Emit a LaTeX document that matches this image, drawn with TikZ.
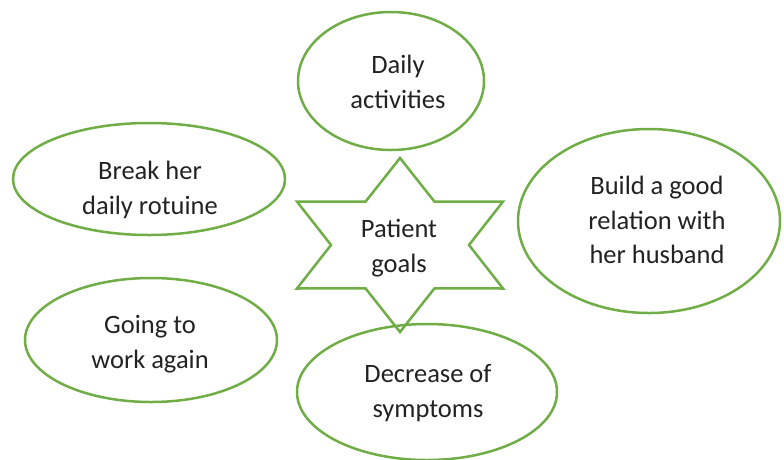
\documentclass[tikz,border=0pt]{standalone}
\usepackage{fontspec}
\setmainfont{Carlito}
\usetikzlibrary{shapes.geometric}
\definecolor{GoalGreen}{HTML}{70AD47}
\definecolor{GoalText}{HTML}{222222}

\begin{document}
\begin{tikzpicture}[x=1pt,y=-1pt,
  goal/.style={ellipse,draw=GoalGreen,line width=2.5pt,inner sep=0pt},
  goaltext/.style={align=center,text=GoalText,font=\fontsize{26.5}{34.5}\selectfont}]
  \useasboundingbox (0,0) rectangle (784,459);
  \draw[GoalGreen,line width=2.5pt,shift={(400,245)}] (90:119 and 87)
    \foreach \a in {30,-30,...,-270} { -- (\a+30:69 and 50) -- (\a:119 and 87) } -- cycle;
  \node[goaltext] (patient) at (399,248) {Patient\\goals};
  \foreach \name/\cx/\cy/\rx/\ry/\tx/\ty/\txt in {
    daily/391/81/93/69/398/82/{Daily\\activities},
    routine/149/179/136/56/150/190/{Break her\\daily rotuine},
    husband/649/221/131/92/657/220/{Build a good\\relation with\\her husband},
    work/151/340/126/62/150/344/{Going to\\work again},
    symptoms/427/392/130/68/428/393/{Decrease of\\symptoms}}
  {
    \node[goal,minimum width=2*\rx,minimum height=2*\ry] (\name) at (\cx,\cy) {};
    \node[goaltext] (\name-text) at (\tx,\ty) {\txt};
  }
\end{tikzpicture}
\end{document}
